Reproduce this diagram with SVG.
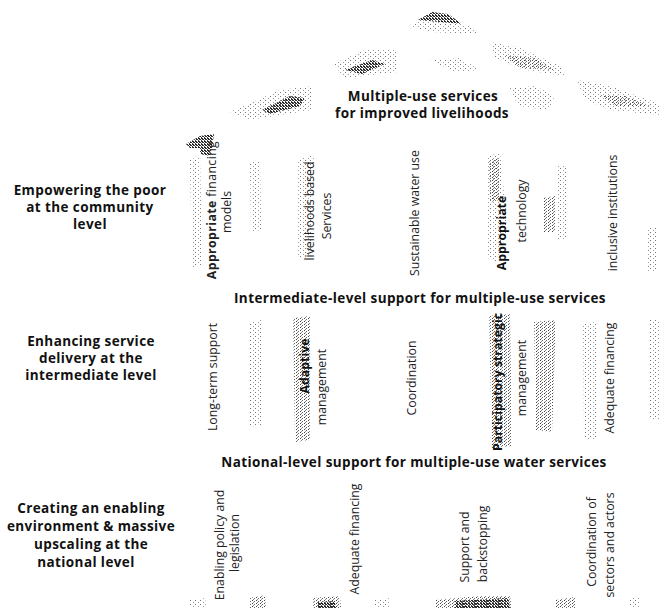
<svg xmlns="http://www.w3.org/2000/svg" width="663" height="610" viewBox="0 0 663 610">
<defs>
<pattern id="lt" width="5" height="4" patternUnits="userSpaceOnUse">
<rect x="0" y="0" width="1" height="1" fill="#777"/><rect x="3" y="2" width="1" height="1" fill="#999"/>
</pattern>
<pattern id="md" width="4" height="3" patternUnits="userSpaceOnUse">
<rect x="0" y="0" width="1" height="1" fill="#444"/><rect x="2" y="1" width="1" height="1" fill="#666"/><rect x="1" y="2" width="1" height="1" fill="#888"/>
</pattern>
<pattern id="dk" width="3" height="3" patternUnits="userSpaceOnUse">
<rect x="0" y="0" width="2" height="1" fill="#222"/><rect x="1" y="1" width="2" height="1" fill="#333"/><rect x="0" y="2" width="1" height="1" fill="#444"/>
</pattern>
<style>
.h{font-family:"Open Sans","Noto Sans",sans-serif;font-weight:700;font-size:13.5px;letter-spacing:0.4px;fill:#111;text-anchor:middle}
.v{font-family:"Open Sans","Noto Sans",sans-serif;font-size:12.3px;fill:#222;text-anchor:middle}
.vb{font-family:"Open Sans","Noto Sans",sans-serif;font-size:12.3px;font-weight:700;fill:#111;text-anchor:middle}
.lt{fill:url(#lt)}
.md{fill:url(#md)}
.dk{fill:url(#dk)}
</style>
</defs>
<rect width="663" height="610" fill="#fff"/>

<g id="roof">
<polygon class="dk" points="418,20 432,12 448,14 462,24 440,22"/>
<polygon class="lt" points="408,26 425,18 470,26 480,34 430,32"/>
<polygon class="lt" points="490,42 520,48 560,66 565,76 525,70 495,58"/>
<polygon class="md" points="505,55 535,58 555,70 520,68"/>
<polygon class="lt" points="333,64 365,50 398,50 397,72 345,78"/>
<polygon class="dk" points="345,70 372,60 385,64 362,74"/>
<polygon class="lt" points="230,112 280,90 313,86 312,110 250,120"/>
<polygon class="dk" points="262,110 290,96 305,98 300,106 270,114"/>
<polygon class="lt" points="577,80 610,86 660,104 660,115 610,110 585,100"/>
<polygon class="md" points="600,95 625,96 650,106 615,106"/>
<polygon class="dk" points="186,144 200,136 214,134 212,148 190,148"/>
<polygon class="lt" points="510,88 535,86 555,96 548,110 518,106"/>
<polygon class="lt" points="430,60 460,58 480,70 455,72"/>
<text class="h" x="423" y="101">Multiple-use services</text>
<text class="h" x="422" y="118">for improved livelihoods</text>
</g>

<g id="tier-community">
<polygon class="lt" points="190,160 200,156 202,265 192,268"/>
<polygon class="dk" points="200,140 212,142 210,156 200,154"/>
<polygon class="lt" points="250,162 260,160 261,230 251,232"/>
<polygon class="lt" points="296,160 314,155 312,255 298,258"/>
<polygon class="lt" points="486,156 500,153 508,230 496,262 488,258"/>
<polygon class="md" points="489,160 499,158 500,200 490,202"/>
<polygon class="lt" points="556,165 566,165 566,240 556,240"/>
<polygon class="md" points="543,198 555,196 556,232 544,232"/>
<polygon class="lt" points="646,228 656,228 656,272 646,272"/>
<text class="v" transform="translate(216,210) rotate(-90)" letter-spacing="0.4"><tspan font-weight="700">Appropriate</tspan> financing</text>
<text class="v" transform="translate(231,212) rotate(-90)">models</text>
<text class="v" transform="translate(314,211) rotate(-90)">livelihoods based</text>
<text class="v" transform="translate(331,216) rotate(-90)">Services</text>
<text class="v" transform="translate(419,213) rotate(-90)">Sustainable water use</text>
<text class="vb" transform="translate(506,233) rotate(-90)">Appropriate</text>
<text class="v" transform="translate(526,211) rotate(-90)">technology</text>
<text class="v" transform="translate(617,213) rotate(-90)">inclusive institutions</text>
</g>

<g id="tier-intermediate">
<text class="h" x="420" y="303">Intermediate-level support for multiple-use services</text>
<polygon class="lt" points="250,322 262,320 262,425 250,427"/>
<polygon class="md" points="293,318 310,316 310,440 295,442"/>
<polygon class="md" points="489,316 510,314 512,446 492,448"/>
<polygon class="md" points="534,322 556,320 552,432 536,430"/>
<polygon class="lt" points="583,324 596,322 596,440 584,440"/>
<polygon class="lt" points="650,320 660,320 660,420 650,420"/>
<text class="v" transform="translate(217,377) rotate(-90)">Long-term support</text>
<text class="vb" transform="translate(309,366) rotate(-90)">Adaptive</text>
<text class="v" transform="translate(326,387) rotate(-90)">management</text>
<text class="v" transform="translate(416,378) rotate(-90)">Coordination</text>
<text class="vb" transform="translate(502,382) rotate(-90)">Participatory strategic</text>
<text class="v" transform="translate(526,378) rotate(-90)">management</text>
<text class="v" transform="translate(614,378) rotate(-90)">Adequate financing</text>
</g>

<g id="tier-national">
<text class="h" x="414" y="467">National-level support for multiple-use water services</text>
<polygon class="lt" points="190,600 205,598 206,608 190,608"/>
<polygon class="md" points="250,598 265,595 266,608 250,608"/>
<polygon class="md" points="313,598 340,596 341,608 313,608"/>
<polygon class="dk" points="318,602 335,601 336,608 318,608"/>
<polygon class="lt" points="375,600 390,598 390,608 375,608"/>
<polygon class="md" points="435,600 480,596 510,596 512,608 435,608"/>
<polygon class="dk" points="455,601 508,598 510,608 455,608"/>
<polygon class="md" points="555,600 575,597 576,608 555,608"/>
<polygon class="lt" points="630,598 640,598 640,608 630,608"/>
<text class="v" transform="translate(224,545) rotate(-90)">Enabling policy and</text>
<text class="v" transform="translate(239,543) rotate(-90)">legislation</text>
<text class="v" transform="translate(359,539) rotate(-90)">Adequate financing</text>
<text class="v" transform="translate(469,547) rotate(-90)">Support and</text>
<text class="v" transform="translate(487,544) rotate(-90)">backstopping</text>
<text class="v" transform="translate(596,542) rotate(-90)">Coordination of</text>
<text class="v" transform="translate(614,545) rotate(-90)">sectors and actors</text>
</g>

<g id="label-community">
<text class="h" x="90" y="195">Empowering the poor</text>
<text class="h" x="90" y="212">at the community</text>
<text class="h" x="90" y="229">level</text>
</g>
<g id="label-intermediate">
<text class="h" x="91" y="346">Enhancing service</text>
<text class="h" x="91" y="363">delivery at the</text>
<text class="h" x="91" y="380">intermediate level</text>
</g>
<g id="label-national">
<text class="h" x="91" y="513">Creating an enabling</text>
<text class="h" x="91" y="531">environment &amp; massive</text>
<text class="h" x="91" y="549">upscaling at the</text>
<text class="h" x="86" y="567">national level</text>
</g>
<g id="connectors"/>
</svg>
